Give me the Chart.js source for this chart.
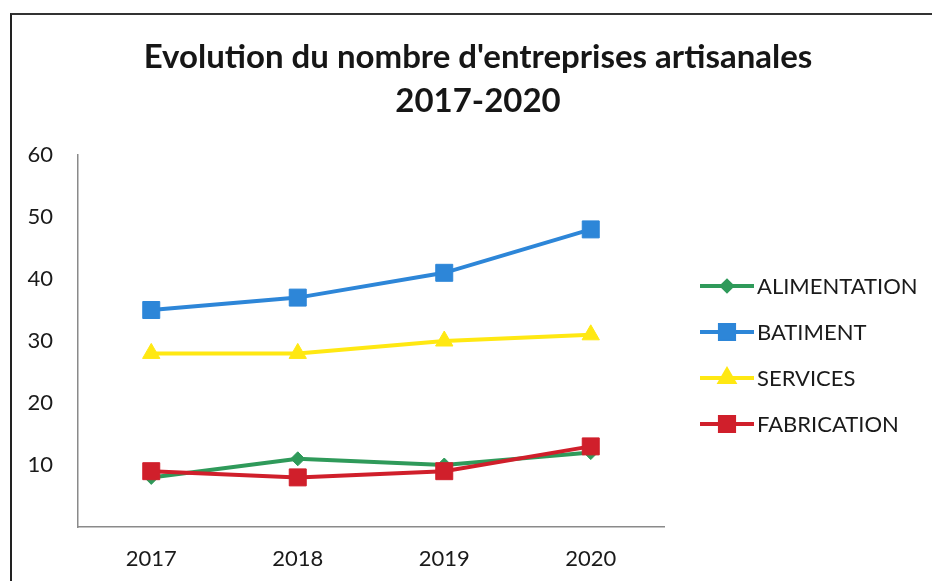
<!DOCTYPE html>
<html>
<head>
<meta charset="utf-8">
<script src="https://cdn.jsdelivr.net/npm/chart.js@4"></script>
<style>
  html, body { margin: 0; padding: 0; background: #fff; }
  #wrap { position: relative; width: 932px; height: 581px; overflow: hidden; }
  #frame { position: absolute; left: 10px; top: 13px; width: 940px; height: 600px;
           border-left: 2px solid #222; border-top: 2px solid #333; }
  canvas { position: absolute; left: 0; top: 0; }
</style>
</head>
<body>
<div id="wrap">
  <div id="frame"></div>
  <canvas id="chart" width="932" height="581"></canvas>
</div>
<script>
// données
const years = ['2017', '2018', '2019', '2020'];
const alimentation = [8, 11, 10, 12];
const batiment = [35, 37, 41, 48];
const services = [28, 28, 30, 31];
const fabrication = [9, 8, 9, 13];
const yTicks = [10, 20, 30, 40, 50, 60];
const titleLines = ["Evolution du nombre d'entreprises artisanales", '2017-2020'];

const FONT = 'Lato, "Open Sans", sans-serif';

// titre centré sur toute la zone (comme dans Excel)
const excelTitle = {
  id: 'excelTitle',
  afterDraw(chart) {
    const ctx = chart.ctx;
    ctx.save();
    ctx.fillStyle = '#161616';
    ctx.font = 'bold 33px ' + FONT;
    ctx.textAlign = 'center';
    ctx.textBaseline = 'middle';
    titleLines.forEach((t, i) => ctx.fillText(t, 478, 57 + i * 44));
    ctx.restore();
  }
};

// légende dessinée à la main (trait + marqueur façon Excel)
const excelLegend = {
  id: 'excelLegend',
  afterDraw(chart) {
    const ctx = chart.ctx;
    const area = chart.chartArea;
    const x0 = area.right + 36;
    const y0 = 286;
    chart.data.datasets.forEach((ds, i) => {
      const y = y0 + i * 46;
      ctx.save();
      ctx.strokeStyle = ds.borderColor;
      ctx.lineWidth = 4;
      ctx.beginPath();
      ctx.moveTo(x0, y);
      ctx.lineTo(x0 + 54, y);
      ctx.stroke();
      Chart.helpers.drawPoint(ctx, {
        pointStyle: ds.pointStyle,
        radius: ds.pointRadius - 2,
        rotation: 0,
        borderWidth: 1
      }, x0 + 27, y);
      ctx.fillStyle = ds.backgroundColor;
      ctx.fill();
      ctx.fillStyle = '#1a1a1a';
      ctx.font = '22px ' + FONT;
      ctx.textBaseline = 'middle';
      ctx.textAlign = 'left';
      ctx.fillText(ds.label, x0 + 57, y + 1);
      ctx.restore();
    });
  }
};

function serie(label, data, color, style, radius, order) {
  return {
    label: label,
    data: data,
    borderColor: color,
    backgroundColor: color,
    borderWidth: 4,
    pointStyle: style,
    pointRadius: radius,
    pointBorderWidth: 1,
    pointBackgroundColor: color,
    tension: 0,
    order: order
  };
}

new Chart(document.getElementById('chart'), {
  type: 'line',
  data: {
    labels: years,
    datasets: [
      serie('ALIMENTATION', alimentation, '#2f9a5a', 'rectRot', 7, 3),
      serie('BATIMENT', batiment, '#2d86d8', 'rect', 12, 2),
      serie('SERVICES', services, '#ffe812', 'triangle', 10, 4),
      serie('FABRICATION', fabrication, '#d01f2b', 'rect', 12, 1)
    ]
  },
  options: {
    responsive: false,
    animation: false,
    layout: { padding: { left: 0, right: 268, top: 155, bottom: 0 } },
    plugins: {
      legend: { display: false },
      tooltip: { enabled: false },
      title: { display: false }
    },
    scales: {
      x: {
        offset: true,
        grid: { display: false, drawTicks: false },
        border: { color: '#8a8a8a', width: 1.5 },
        ticks: { color: '#1a1a1a', font: { family: FONT, size: 22 }, padding: 19 },
        afterFit(scale) { scale.height = 54; }
      },
      y: {
        min: 0,
        max: 60,
        afterBuildTicks(scale) {
          scale.ticks = [0].concat(yTicks).map(v => ({ value: v }));
        },
        grid: { display: false, drawTicks: false },
        border: { color: '#8a8a8a', width: 1.5 },
        ticks: {
          color: '#1a1a1a',
          font: { family: FONT, size: 22 },
          padding: 25,
          callback: v => v === 0 ? '' : v
        },
        afterFit(scale) { scale.width = 78; }
      }
    }
  },
  plugins: [excelTitle, excelLegend]
});
</script>
</body>
</html>
